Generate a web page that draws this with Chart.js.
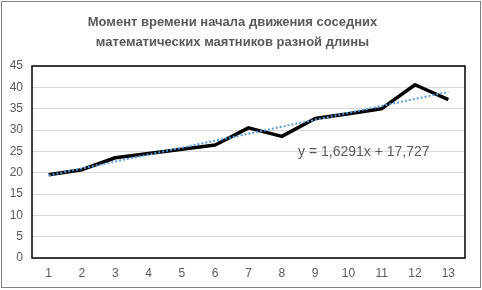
<!DOCTYPE html>
<html>
<head>
<meta charset="utf-8">
<script src="https://cdn.jsdelivr.net/npm/chart.js@4"></script>
<style>
  html, body { margin: 0; padding: 0; background: #fff; }
  #wrap { width: 482px; height: 290px; }
</style>
</head>
<body>
<div id="wrap"><canvas id="pendulumChart" width="482" height="290"></canvas></div>
<script>
const labels = ['1', '2', '3', '4', '5', '6', '7', '8', '9', '10', '11', '12', '13'];
const startTimes = [19.5, 20.7, 23.5, 24.5, 25.5, 26.5, 30.5, 28.5, 32.7, 33.8, 35.0, 40.6, 37.1];
// linear trend end points (y = 1,6291x + 17,727 at x = 1 and x = 13)
const trendValues = [19.36, null, null, null, null, null, null, null, null, null, null, null, 38.91];
const yTicks = [0, 5, 10, 15, 20, 25, 30, 35, 40, 45];
const titleLines = ['Момент времени начала движения соседних', 'математических маятников разной длины'];
const equationText = 'y = 1,6291x + 17,727';

const textGrey = '#595959';

const frame = {
    id: 'frame',
    beforeDraw(chart) {
        const c = chart.ctx;
        c.save();
        c.fillStyle = '#fff';
        c.fillRect(0, 0, chart.width, chart.height);
        c.strokeStyle = '#7f7f7f';
        c.lineWidth = 1;
        c.strokeRect(1.5, 1.5, chart.width - 3, chart.height - 4);
        c.restore();
    },
    afterDatasetsDraw(chart) {
        const c = chart.ctx;
        const a = chart.chartArea;
        c.save();
        c.strokeStyle = '#000';
        c.lineWidth = 1.5;
        c.strokeRect(a.left, a.top, a.right - a.left, a.bottom - a.top);
        c.fillStyle = textGrey;
        c.font = '14px "Liberation Sans", sans-serif';
        c.textBaseline = 'middle';
        c.fillText(equationText, a.left + 266, a.top + 86);
        c.restore();
    }
};

new Chart(document.getElementById('pendulumChart'), {
    type: 'line',
    data: {
        labels: labels,
        datasets: [{
            label: 'Линейная (Ряд1)',
            data: trendValues,
            spanGaps: true,
            borderColor: '#5B9BD5',
            borderWidth: 2,
            borderDash: [2, 2],
            pointRadius: 0,
            order: 0
        },
        {
            label: 'Ряд1',
            data: startTimes,
            borderColor: '#000',
            borderWidth: 3.5,
            borderJoinStyle: 'round',
            tension: 0,
            pointRadius: 0,
            order: 1
        }]
    },
    options: {
        responsive: false,
        animation: false,
        layout: { padding: { left: 0, right: 17, top: 0, bottom: 0 } },
        plugins: {
            legend: { display: false },
            tooltip: { enabled: false },
            title: {
                display: true,
                text: titleLines,
                color: textGrey,
                font: { family: '"Liberation Sans", sans-serif', size: 13, weight: 'bold', lineHeight: 1.5 },
                padding: { top: 13, bottom: 14 }
            }
        },
        scales: {
            x: {
                offset: true,
                grid: { display: false, drawTicks: false },
                border: { display: false },
                ticks: { color: textGrey, font: { family: '"Liberation Sans", sans-serif', size: 12 }, padding: 8, maxRotation: 0 },
                afterFit(scale) { scale.height = 32; }
            },
            y: {
                min: 0,
                max: 45,
                afterBuildTicks(scale) { scale.ticks = yTicks.map(v => ({ value: v })); },
                grid: { color: '#d9d9d9', lineWidth: 1, drawTicks: false },
                border: { display: false },
                ticks: { color: textGrey, font: { family: '"Liberation Sans", sans-serif', size: 12 }, padding: 9 },
                afterFit(scale) { scale.width = 32; }
            }
        }
    },
    plugins: [frame]
});
</script>
</body>
</html>
